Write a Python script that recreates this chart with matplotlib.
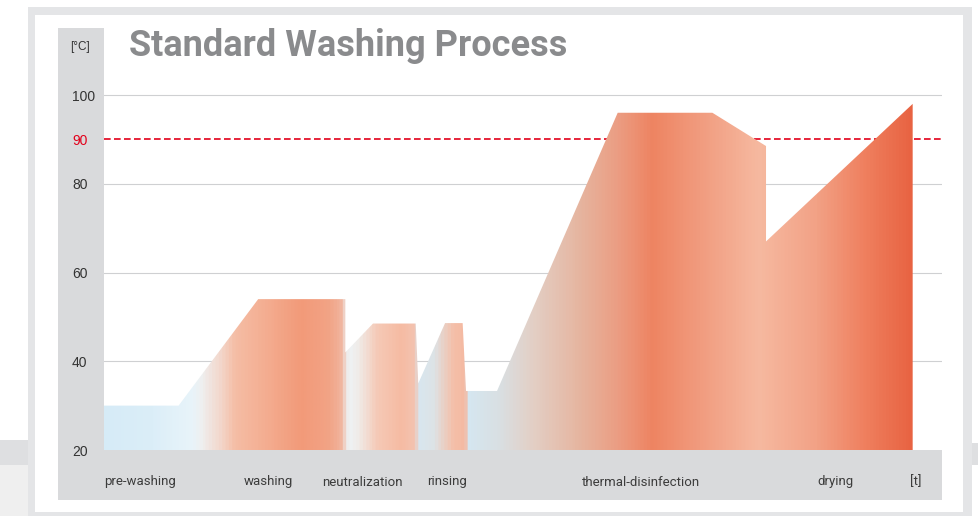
import numpy as np
import matplotlib.pyplot as plt
from matplotlib.patches import Rectangle, Polygon
from matplotlib.colors import LinearSegmentedColormap

# Temperature profile of the process (time in relative units, temperature in °C)
time_t = [0, 8.9, 18.4, 28.8, 28.8, 32.1, 37.2, 37.5, 40.7, 42.8, 43.2,
          46.9, 61.3, 72.6, 79.0, 79.0, 96.5]
temp_c = [30, 30, 54, 54, 42, 48.5, 48.5, 35, 48.6, 48.6, 33.3,
          33.3, 96, 96, 88.5, 67, 98]

phases = ['pre-washing', 'washing', 'neutralization', 'rinsing',
          'thermal-disinfection', 'drying', '[t]']
y_ticks = [20, 40, 60, 80, 90, 100]
limit_temp = 90

# layout (pixels of the 979x516 picture)
W, H = 979, 516
phase_x = [0, 16.7, 26.0, 38.5, 57.0, 85.1, 96.2]

# colour stops of the fill, along the time axis
grad_stops = [
    (0.0, '#d6ebf7'), (5.5, '#dbeef8'), (10.3, '#e8f4fa'), (11.5, '#efefef'),
    (13.8, '#f3d6ca'), (15.4, '#f5bea6'), (23.4, '#f29a79'), (26.6, '#f2a385'),
    (28.2, '#f1b39c'), (29.1, '#eef3f6'), (30.2, '#f0ece9'), (32.6, '#f5c9b6'),
    (35.3, '#f6bba3'), (37.1, '#f3c3b0'), (37.5, '#d8e6ef'), (39.3, '#dde3e6'),
    (41.7, '#f5bfa8'), (43.1, '#f4b9a2'), (43.3, '#d5e7f1'), (47.3, '#d9dfe2'),
    (51.2, '#e3cfc5'), (57.2, '#e6b39d'), (61.2, '#eb9e84'), (65.5, '#ee8462'),
    (71.1, '#f19b7e'), (78.3, '#f6b9a0'), (85.1, '#f2a286'), (91.1, '#ef7f5e'),
    (96.5, '#e86342'), (100.0, '#e86342'),
]


def fx(px):
    return px / W


def fy(py):
    return 1 - py / H


def rect(fig, x0, y0, x1, y1, color):
    fig.patches.append(Rectangle((fx(x0), fy(y1)), fx(x1) - fx(x0), fy(y0) - fy(y1),
                                 transform=fig.transFigure, color=color, zorder=-10,
                                 linewidth=0))


fig = plt.figure(figsize=(W / 100, H / 100), dpi=100)
fig.patch.set_facecolor('white')

# page frame
rect(fig, 28, 7, 972, 516, '#e4e5e7')
rect(fig, 35, 15, 963, 512, 'white')
rect(fig, 0, 440, 28, 465, '#dedfe1')
rect(fig, 0, 465, 28, 516, '#efefef')
rect(fig, 972, 443, 979, 465, '#dedfe1')
# grey axis bands
rect(fig, 58, 28, 104, 500, '#d9dadc')
rect(fig, 58, 450, 942, 500, '#d9dadc')

ax = fig.add_axes([fx(104), fy(450), fx(942) - fx(104), fy(28) - fy(450)])
ax.set_zorder(5)
ax.patch.set_alpha(0)
for s in ax.spines.values():
    s.set_visible(False)

for v in [40, 60, 80, 100]:
    ax.axhline(v, color='#cfd0d2', lw=0.8, zorder=1)
ax.axhline(limit_temp, color='#e2001a', lw=1.2, ls=(0, (4, 2)), zorder=2)

# gradient fill clipped to the temperature profile
pos = [p / 100 for p, c in grad_stops]
cmap = LinearSegmentedColormap.from_list('wash', list(zip(pos, [c for p, c in grad_stops])))
grad = np.linspace(0, 1, 1000).reshape(1, -1)
img = ax.imshow(grad, cmap=cmap, aspect='auto', extent=[0, 100, 20, 115.1],
                origin='lower', zorder=3, interpolation='bilinear')
verts = [(time_t[0], 20)] + list(zip(time_t, temp_c)) + [(time_t[-1], 20)]
poly = Polygon(verts, closed=True, facecolor='none', edgecolor='none')
ax.add_patch(poly)
img.set_clip_path(poly)
ax.set_xlim(0, 100)
ax.set_ylim(20, 115.1)

ax.set_yticks(y_ticks)
ax.set_yticklabels([str(v) for v in y_ticks], fontsize=10, family='Liberation Sans',
                   ha='left', color='#333333')
ax.tick_params(axis='y', length=0, pad=23)
ax.get_yticklabels()[y_ticks.index(limit_temp)].set_color('#e2001a')
ax.set_xticks([])

for name, x in zip(phases, phase_x):
    ax.text(x, -(482 - 450) / 422, name, transform=ax.get_xaxis_transform(),
            ha='left', va='center', fontsize=9.5, color='#3c3c3c', family='Roboto')

fig.text(fx(70), fy(47), '[°C]', fontsize=8.5, color='#333333', va='center',
         family='Liberation Sans')
fig.text(fx(129), fy(46), 'Standard Washing Process', fontsize=26, weight='bold',
         color='#8a8b8d', va='center', family='Roboto')

fig.savefig('out.png', dpi=100)
